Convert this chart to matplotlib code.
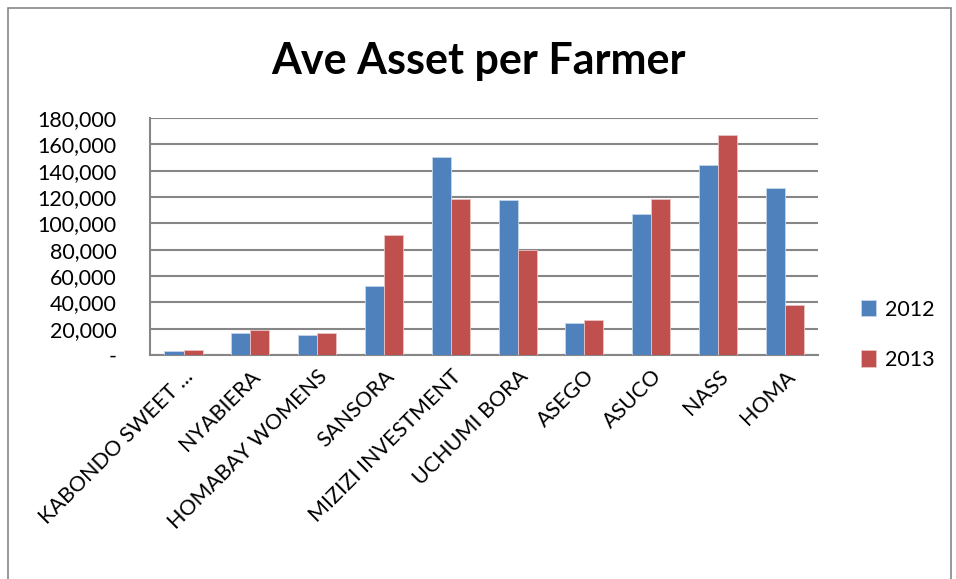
import matplotlib
matplotlib.use("Agg")
import matplotlib.pyplot as plt
import numpy as np
from matplotlib.patches import Rectangle
from matplotlib.ticker import FuncFormatter

groups = ["KABONDO SWEET ...", "NYABIERA", "HOMABAY WOMENS", "SANSORA",
          "MIZIZI INVESTMENT", "UCHUMI BORA", "ASEGO", "ASUCO", "NASS", "HOMA"]
v2012 = [3000, 17000, 14900, 52200, 150600, 117500, 24100, 107100, 144600, 126600]
v2013 = [3500, 19200, 16500, 90900, 118500, 79700, 26600, 118500, 167100, 37700]

plt.rcParams['font.family'] = ['Lato', 'DejaVu Sans']

fig = plt.figure(figsize=(9.56, 5.79), dpi=100)
ax = fig.add_axes([0.157, 0.387, 0.699, 0.409])

x = np.arange(len(groups))
w = 0.285
ax.bar(x - w / 2, v2012, w, color='#4F81BD', edgecolor='#C5D5EA', linewidth=0.6, label='2012', zorder=3)
ax.bar(x + w / 2, v2013, w, color='#C0504D', edgecolor='#EBC4C3', linewidth=0.6, label='2013', zorder=3)

ax.set_xlim(-0.5, len(groups) - 0.5)
ax.set_ylim(0, 180000)
ax.set_yticks(np.arange(0, 180001, 20000))
ax.yaxis.set_major_formatter(FuncFormatter(lambda v, p: '-' if v == 0 else f'{int(v):,}'))
ax.grid(axis='y', color='#868686', linewidth=1.5, zorder=0)
for s in ['top', 'right']:
    ax.spines[s].set_visible(False)
for s in ['left', 'bottom']:
    ax.spines[s].set_color('#868686')
    ax.spines[s].set_linewidth(1.5)
ax.tick_params(axis='y', length=0, labelsize=15.5, pad=24)
ax.tick_params(axis='x', length=0, pad=8)
ax.set_xticks(x)
ax.set_xticklabels(groups, rotation=45, ha='right', rotation_mode='anchor', fontsize=15.5)

fig.suptitle('Ave Asset per Farmer', x=0.5, y=0.93, fontsize=31, fontweight='bold')

leg = ax.legend(loc='center left', bbox_to_anchor=(1.035, 0.085), frameon=False,
                fontsize=15.5, handlelength=0.7, handleheight=0.8, labelspacing=1.4,
                handletextpad=0.4)

fig.patches.append(Rectangle((0.008, -0.05), 0.987, 1.036, transform=fig.transFigure,
                             fill=False, edgecolor='#868686', linewidth=1.2))

fig.savefig('out.png', dpi=100)
